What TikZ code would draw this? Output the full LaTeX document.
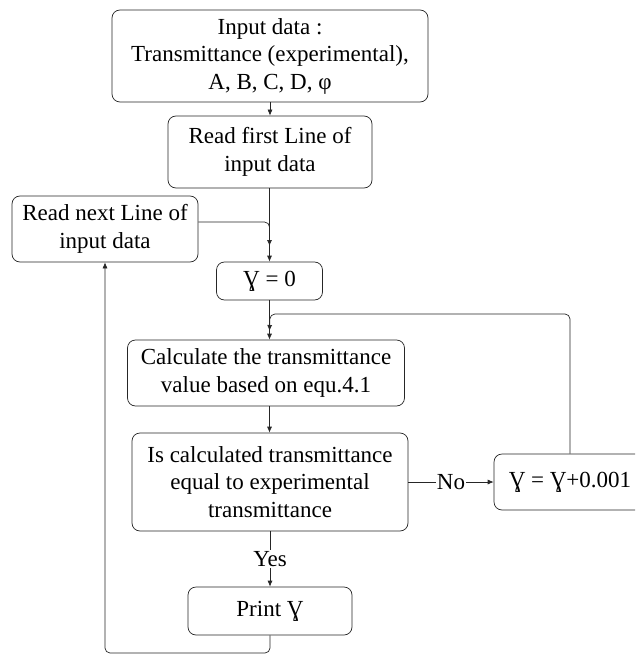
\documentclass[tikz,border=0pt]{standalone}
\usepackage{fontspec}
\setmainfont{Liberation Serif}
\usetikzlibrary{arrows.meta}
\newcommand{\gam}{Ɣ}
\begin{document}
\begin{tikzpicture}[x=1pt,y=-1pt,
  box/.style={draw=black!85, line width=0.7pt, rounded corners=8pt, rectangle, align=center, inner sep=0pt,
    font=\fontsize{23}{27.5}\selectfont},
  conn/.style={draw=black!85, line width=0.7pt},
  arr/.style={conn, -{Latex[length=6pt,width=5pt]}},
  lbl/.style={fill=white, inner sep=1pt, font=\fontsize{23}{27}\selectfont}]
\clip (0,0) rectangle (635,655);
\fill[white] (0,0) rectangle (635,655);
\node[box, minimum width=316pt, minimum height=92pt] (in) at (270,56) {Input data :\\Transmittance (experimental),\\A, B, C, D, φ};
\node[box, minimum width=204pt, minimum height=72pt] (rf) at (270,152) {Read first Line of\\input data};
\node[box, minimum width=186pt, minimum height=66pt] (rn) at (105,229) {Read next Line of\\input data};
\node[box, minimum width=106pt, minimum height=38pt] (g0) at (269.5,281) {\gam{} = 0};
\node[box, minimum width=277pt, minimum height=66pt] (calc) at (266,373) {Calculate the transmittance\\value based on equ.4.1};
\node[box, minimum width=276pt, minimum height=98pt] (dec) at (270,482) {Is calculated transmittance\\equal to experimental\\transmittance};
\node[box, minimum width=152pt, minimum height=56pt] (inc) at (570,482) {\gam{} = \gam+0.001};
\node[box, minimum width=164pt, minimum height=48pt] (pr) at (270,611) {Print \gam};
\coordinate (m1) at (269.5,246);
\coordinate (m2) at (269.5,331);
\coordinate (b1) at (270,653);
\draw[arr] (in.south -| 270,0) -- (rf.north -| 270,0);
\draw[arr] (rf.south -| g0.north) -- (g0.north);
\draw[arr, rounded corners=5pt] (rn.east |- 0,222) -| (m1);
\draw[arr] (g0.south) -- (calc.north -| g0.south);
\draw[arr, rounded corners=5pt] (inc.north) |- (270,314) -- (m2);
\draw[arr] (calc.south -| 269.5,0) -- (dec.north -| 269.5,0);
\draw[arr] (dec.east) -- node[lbl] {No} (inc.west);
\draw[arr] (dec.south) -- node[lbl, pos=0.5] {Yes} (pr.north);
\draw[arr, rounded corners=5pt] (pr.south) -- (b1) -| (rn.south);
\end{tikzpicture}
\end{document}
